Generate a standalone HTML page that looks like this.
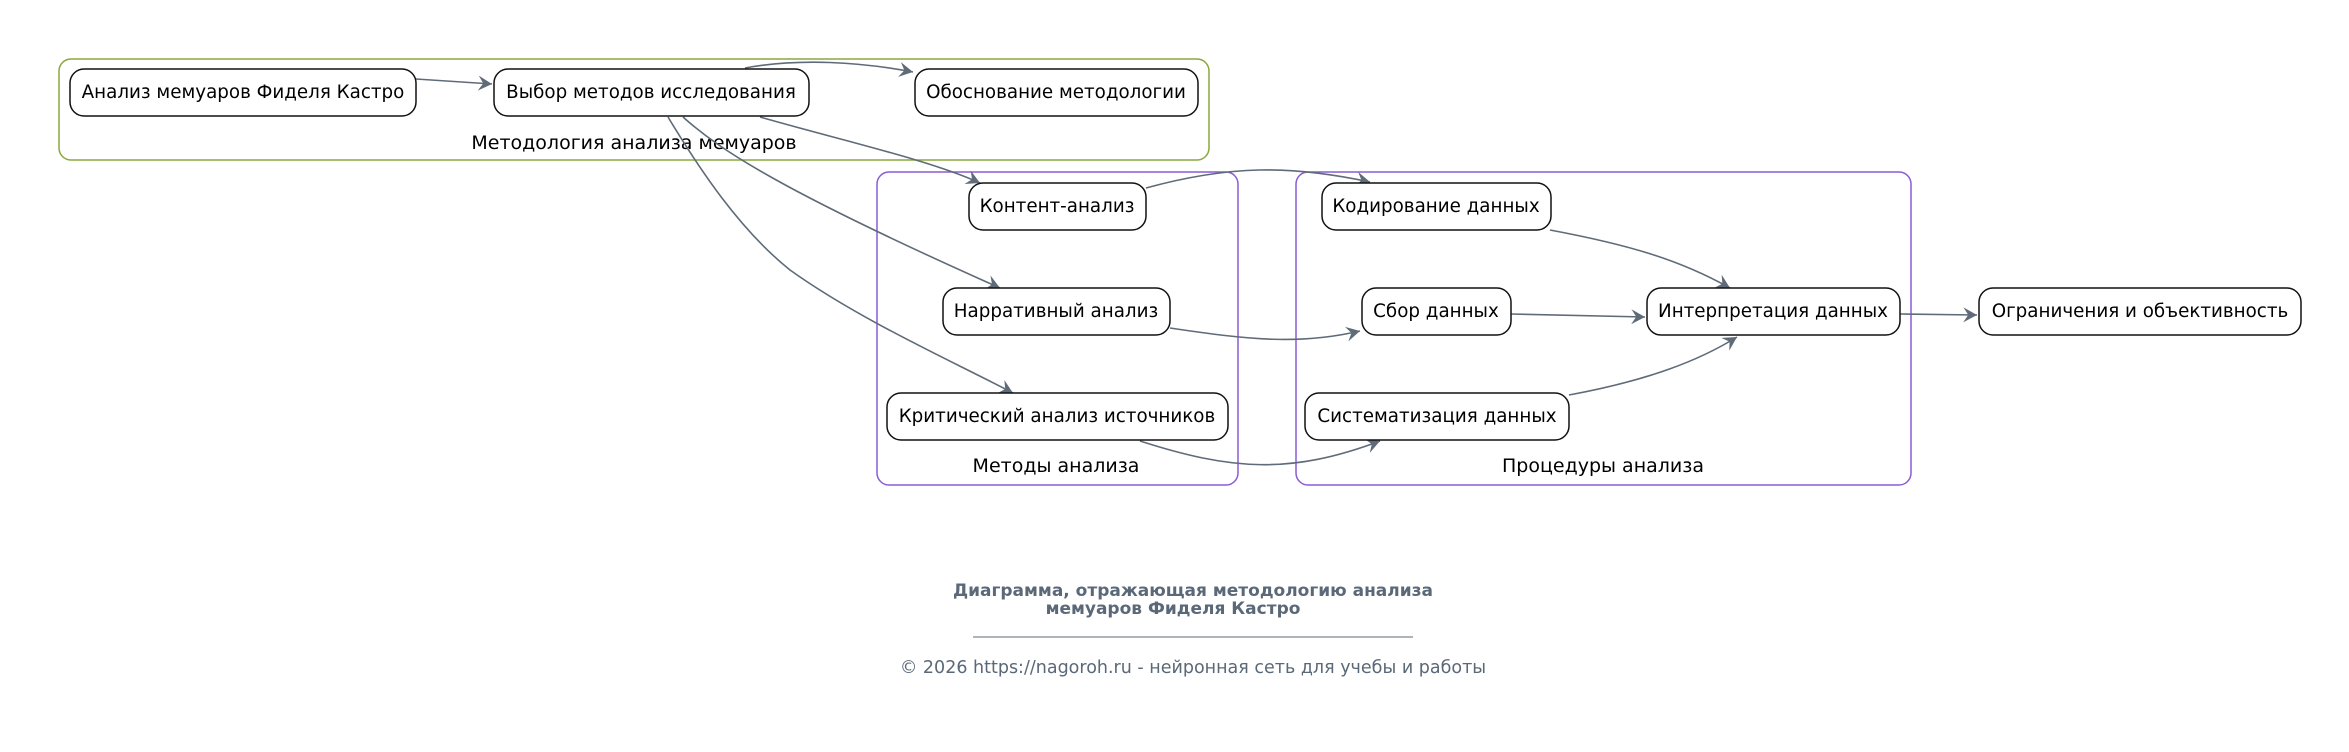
<!DOCTYPE html>
<html><head><meta charset="utf-8"><style>
html,body{margin:0;padding:0;background:#fff;}
svg{display:block;}
text{font-family:"DejaVu Sans","Liberation Sans","Noto Sans CJK SC",sans-serif;}
</style></head><body>
<svg width="2349" height="752" viewBox="0 0 2349 752" xmlns="http://www.w3.org/2000/svg">
<defs>
<marker id="a" viewBox="0 0 12 12" refX="11" refY="6" markerWidth="15" markerHeight="15" markerUnits="userSpaceOnUse" orient="auto">
<path d="M0,0 L11,6 L0,12 L4,6 Z" fill="#5f6b78"/>
</marker>
</defs>
<rect x="59" y="59" width="1150" height="101" rx="12" fill="none" stroke="#8aa83e" stroke-width="1.5"/>
<rect x="877" y="172" width="361" height="313" rx="12" fill="none" stroke="#8a5cd6" stroke-width="1.5"/>
<rect x="1296" y="172" width="615" height="313" rx="12" fill="none" stroke="#8a5cd6" stroke-width="1.5"/>
<text x="634" y="149" font-size="19" text-anchor="middle">Методология анализа мемуаров</text>
<text x="1056" y="472" font-size="19" text-anchor="middle">Методы анализа</text>
<text x="1603" y="472" font-size="19" text-anchor="middle">Процедуры анализа</text>
<g fill="none" stroke="#5f6b78" stroke-width="1.6" marker-end="url(#a)">
<path d="M416,79 L492,84"/>
<path d="M745,68 C800,58 860,62 913,72"/>
<path d="M760,117 C840,140 930,160 980,183"/>
<path d="M683,117 C720,150 780,190 1000,288"/>
<path d="M668,117 C700,170 740,230 790,270 C860,320 950,360 1013,393"/>
<path d="M1146,188 C1230,165 1290,165 1370,182"/>
<path d="M1170,328 C1250,340 1300,345 1360,331"/>
<path d="M1140,441 C1230,470 1290,475 1380,441"/>
<path d="M1550,230 C1630,245 1680,260 1730,288"/>
<path d="M1511,314 L1645,317"/>
<path d="M1569,395 C1650,380 1700,360 1737,337"/>
<path d="M1900,314 L1977,315"/>
</g>
<g fill="#fff" stroke="#111" stroke-width="1.5">
<rect x="70" y="69" width="346" height="47" rx="14"/>
<rect x="494" y="69" width="315" height="47" rx="14"/>
<rect x="915" y="69" width="283" height="47" rx="14"/>
<rect x="969" y="183" width="177" height="47" rx="14"/>
<rect x="943" y="288" width="227" height="47" rx="14"/>
<rect x="887" y="393" width="341" height="47" rx="14"/>
<rect x="1322" y="183" width="229" height="47" rx="14"/>
<rect x="1362" y="288" width="149" height="47" rx="14"/>
<rect x="1647" y="288" width="253" height="47" rx="14"/>
<rect x="1305" y="393" width="264" height="47" rx="14"/>
<rect x="1979" y="288" width="322" height="47" rx="14"/>
</g>
<g font-size="18.3" text-anchor="middle" fill="#000">
<text x="243" y="98">Анализ мемуаров Фиделя Кастро</text>
<text x="651" y="98">Выбор методов исследования</text>
<text x="1056" y="98">Обоснование методологии</text>
<text x="1057" y="212">Контент-анализ</text>
<text x="1056" y="317">Нарративный анализ</text>
<text x="1057" y="422">Критический анализ источников</text>
<text x="1436" y="212">Кодирование данных</text>
<text x="1436" y="317">Сбор данных</text>
<text x="1773" y="317">Интерпретация данных</text>
<text x="1437" y="422">Систематизация данных</text>
<text x="2140" y="317">Ограничения и объективность</text>
</g>
<text x="1193" y="596" font-size="17" font-weight="bold" fill="#5a6878" text-anchor="middle">Диаграмма, отражающая методологию анализа</text>
<text x="1173" y="614" font-size="17" font-weight="bold" fill="#5a6878" text-anchor="middle">мемуаров Фиделя Кастро</text>
<line x1="973" y1="637" x2="1413" y2="637" stroke="#5a6878" stroke-width="1"/>
<text x="1193" y="673" font-size="17.5" fill="#5a6878" text-anchor="middle">© 2026 https://nagoroh.ru - нейронная сеть для учебы и работы</text>
</svg>
</body></html>
